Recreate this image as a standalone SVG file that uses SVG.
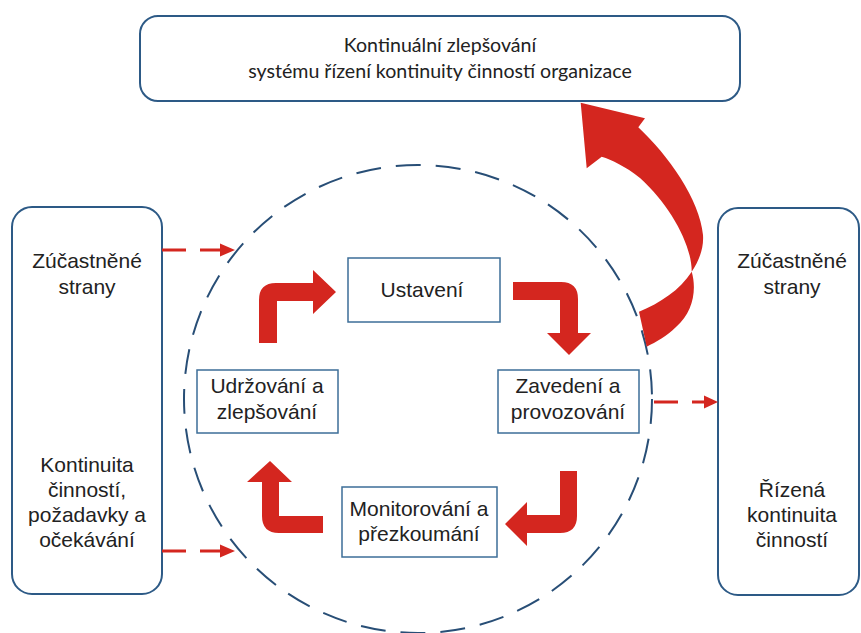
<svg xmlns="http://www.w3.org/2000/svg" width="861" height="633" viewBox="0 0 861 633">
<style>
.bg{fill:#ffffff}
.outer{fill:#ffffff;stroke:#2d5a86;stroke-width:2}
.inner{fill:#ffffff;stroke:#3d6e98;stroke-width:1.5}
.circ{fill:none;stroke:#284e76;stroke-width:2;stroke-dasharray:25 15}
.red{fill:#d4261f;stroke:none}
.dline{stroke:#d4261f;stroke-width:3;fill:none;stroke-dasharray:24 14}
.t{font-family:"Liberation Sans",Arial,sans-serif;font-size:21px;fill:#222222;text-anchor:middle}
.tt{font-family:Lato,"Liberation Sans",sans-serif;font-size:19.6px;fill:#222222;text-anchor:middle}
</style>
<rect class="bg" x="0" y="0" width="861" height="633"/>
<circle id="cycle" class="circ" cx="418" cy="399" r="234"/>
<g id="top-box">
<rect class="outer" x="140" y="16" width="600" height="85" rx="18"/>
<text class="tt" x="440" y="52">Kontinuální zlepšování</text>
<text class="tt" x="440" y="78">systému řízení kontinuity činností organizace</text>
</g>
<g id="left-box">
<rect class="outer" x="12" y="207" width="150" height="387" rx="20"/>
<text class="t" x="87" y="268">Zúčastněné</text>
<text class="t" x="87" y="294">strany</text>
<text class="t" x="87" y="472">Kontinuita</text>
<text class="t" x="87" y="497">činností,</text>
<text class="t" x="87" y="522">požadavky a</text>
<text class="t" x="87" y="547">očekávání</text>
</g>
<g id="right-box">
<rect class="outer" x="718" y="208" width="141" height="387" rx="20"/>
<text class="t" x="792" y="268">Zúčastněné</text>
<text class="t" x="792" y="294">strany</text>
<text class="t" x="792" y="497">Řízená</text>
<text class="t" x="792" y="522">kontinuita</text>
<text class="t" x="792" y="547">činností</text>
</g>
<g id="ustaveni">
<rect class="inner" x="348" y="258" width="152" height="64"/>
<text class="t" x="422" y="297">Ustavení</text>
</g>
<g id="zavedeni">
<rect class="inner" x="498" y="370" width="141" height="63"/>
<text class="t" x="568" y="393">Zavedení a</text>
<text class="t" x="568" y="419">provozování</text>
</g>
<g id="monitorovani">
<rect class="inner" x="342" y="487" width="155" height="70"/>
<text class="t" x="419" y="516">Monitorování a</text>
<text class="t" x="419" y="541">přezkoumání</text>
</g>
<g id="udrzovani">
<rect class="inner" x="197" y="370" width="141" height="63"/>
<text class="t" x="267" y="393">Udržování a</text>
<text class="t" x="267" y="419">zlepšování</text>
</g>
<g id="connectors">
<path class="red" d="M259,343 L259,300 Q259,283 276,283 L313,283 L313,270 L336,292 L313,314 L313,301 L277,301 L277,343 Z"/>
<path class="red" d="M513,282 L561,282 Q578,282 578,299 L578,333 L591,333 L569,355 L547,333 L560,333 L560,300 L513,300 Z"/>
<path class="red" d="M560,471 L577,471 L577,516 Q577,533 560,533 L527,533 L527,546 L505,524 L527,502 L527,515 L560,515 Z"/>
<path class="red" d="M323,516 L323,533 L279,533 Q262,533 262,516 L262,482 L247,482 L270,461 L292,482 L279,482 L279,516 Z"/>
<path class="red" d="M580.7,102.7 L645,118.3 L638.3,127.3 C668,155 700,200 703,235 C704,250 698,262 691.7,271.7 C697,290 693,312 676,327 C667,336 656,342 646.7,346.7 L639,311.7 C660,303 680,290 691.7,271.7 C692,245 670,205 640,178 C625,166 612,160 601.7,156.7 L586.7,168.3 Z"/>
<line class="dline" x1="162" y1="250" x2="220" y2="250"/>
<polygon class="red" points="220,243.5 235,250 220,256.5"/>
<line class="dline" x1="162" y1="551" x2="220" y2="551"/>
<polygon class="red" points="220,544.5 235,551 220,557.5"/>
<line class="dline" x1="654" y1="402" x2="704" y2="402"/>
<polygon class="red" points="704,395.5 718,402 704,408.5"/>
</g>
</svg>
